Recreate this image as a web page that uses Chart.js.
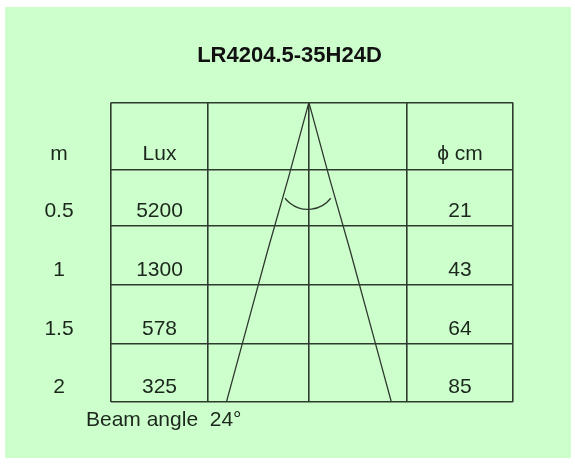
<!DOCTYPE html>
<html>
<head>
<meta charset="utf-8">
<script src="https://cdn.jsdelivr.net/npm/chart.js@4/dist/chart.umd.min.js"></script>
<style>
  html, body { margin: 0; padding: 0; background: #ffffff; }
  #wrap { width: 575px; height: 465px; }
</style>
</head>
<body>
<div id="wrap"><canvas id="c" width="575" height="465"></canvas></div>
<script>
// ---------------- data ----------------
const chartTitle = 'LR4204.5-35H24D';
const headers = ['m', 'Lux', 'ϕ cm'];
const distances = [0.5, 1, 1.5, 2];            // m
const distanceLabels = ['0.5', '1', '1.5', '2'];
const luxValues = [5200, 1300, 578, 325];      // lux
const diameters = [21, 43, 64, 85];            // beam diameter, cm
const beamAngle = 24;                          // degrees
const footnote = 'Beam angle  ' + beamAngle + '°';

// ---------------- layout / style (not data) ----------------
const colEdges = [-1.02, -0.52, 0, 0.505, 1.052]; // table column borders, in beam metres
const rowEdges = [0, 0.447, 0.827, 1.22, 1.613, 2]; // table row borders, in beam metres
const FONT = '"Liberation Sans", Arial, Helvetica, sans-serif';
const LINE = '#2f3a2f';
const TEXT = '#1c261c';
const PANEL = '#ccffcc';

// beam edges built from the distance / diameter data (lamp at distance 0)
const leftEdge = [{x: 0, y: 0}].concat(distances.map((d, i) => ({x: -diameters[i] / 200, y: d})));
const rightEdge = [{x: 0, y: 0}].concat(distances.map((d, i) => ({x: diameters[i] / 200, y: d})));

const bgPlugin = {
  id: 'bgPanel',
  beforeDraw(chart) {
    const ctx = chart.ctx;
    ctx.save();
    ctx.fillStyle = '#ffffff';
    ctx.fillRect(0, 0, chart.width, chart.height);
    ctx.fillStyle = PANEL;
    ctx.fillRect(5, 7, chart.width - 9, chart.height - 14);
    ctx.restore();
  }
};

const titleCenter = {
  id: 'titleCenter',
  afterLayout(chart) {
    const t = chart.titleBlock;
    if (t) { t.left = 4; t.right = chart.width; t.width = chart.width - 4; }
  }
};

const tablePlugin = {
  id: 'tableText',
  afterDatasetsDraw(chart) {
    const {ctx, scales: {x, y}} = chart;
    const colCenter = i => (x.getPixelForValue(colEdges[i]) + x.getPixelForValue(colEdges[i + 1])) / 2;
    const tableLeft = x.getPixelForValue(colEdges[0]);
    const distX = tableLeft - 52;
    const luxX = colCenter(0);
    const phiX = colCenter(3);
    const rowY = r => y.getPixelForValue(rowEdges[r + 1]) - 15;
    ctx.save();
    ctx.fillStyle = TEXT;
    ctx.font = '21px ' + FONT;
    ctx.textAlign = 'center';
    ctx.textBaseline = 'middle';
    ctx.fillText(headers[0], distX, rowY(0));
    ctx.fillText(headers[1], luxX, rowY(0));
    ctx.fillText(headers[2], phiX, rowY(0));
    distances.forEach((d, i) => {
      ctx.fillText(distanceLabels[i], distX, rowY(i + 1));
      ctx.fillText(String(luxValues[i]), luxX, rowY(i + 1));
      ctx.fillText(String(diameters[i]), phiX, rowY(i + 1));
    });
    ctx.textAlign = 'left';
    ctx.fillText(footnote, tableLeft - 25, y.getPixelForValue(rowEdges[rowEdges.length - 1]) + 18);
    // angle marker arc below the lamp
    const ax = x.getPixelForValue(0);
    const ay = y.getPixelForValue(0);
    ctx.strokeStyle = LINE;
    ctx.lineWidth = 1.3;
    ctx.beginPath();
    ctx.arc(ax - 1, ay + 78, 29, 38 * Math.PI / 180, 142 * Math.PI / 180);
    ctx.stroke();
    ctx.restore();
  }
};

new Chart(document.getElementById('c'), {
  type: 'scatter',
  data: {
    datasets: [
      { label: 'beam left', data: leftEdge, showLine: true, borderColor: LINE, borderWidth: 1.3, pointRadius: 0, tension: 0 },
      { label: 'beam right', data: rightEdge, showLine: true, borderColor: LINE, borderWidth: 1.3, pointRadius: 0, tension: 0 }
    ]
  },
  options: {
    responsive: false,
    animation: false,
    devicePixelRatio: 1,
    layout: { padding: { left: 111, right: 62, top: 0, bottom: 63 } },
    plugins: {
      legend: { display: false },
      tooltip: { enabled: false },
      title: {
        display: true,
        text: chartTitle,
        color: '#111111',
        font: { family: FONT, size: 22, weight: 'bold' },
        padding: { top: 43, bottom: 33 }
      }
    },
    scales: {
      x: {
        type: 'linear', position: 'bottom',
        min: colEdges[0], max: colEdges[colEdges.length - 1],
        afterBuildTicks: s => { s.ticks = colEdges.map(v => ({ value: v })); },
        ticks: { display: false },
        grid: { color: LINE, lineWidth: 1.6, drawTicks: false },
        border: { display: false }
      },
      y: {
        type: 'linear', position: 'left', reverse: true,
        min: rowEdges[0], max: rowEdges[rowEdges.length - 1],
        afterBuildTicks: s => { s.ticks = rowEdges.map(v => ({ value: v })); },
        ticks: { display: false },
        grid: { color: LINE, lineWidth: 1.6, drawTicks: false },
        border: { display: false }
      }
    }
  },
  plugins: [bgPlugin, titleCenter, tablePlugin]
});
</script>
</body>
</html>
